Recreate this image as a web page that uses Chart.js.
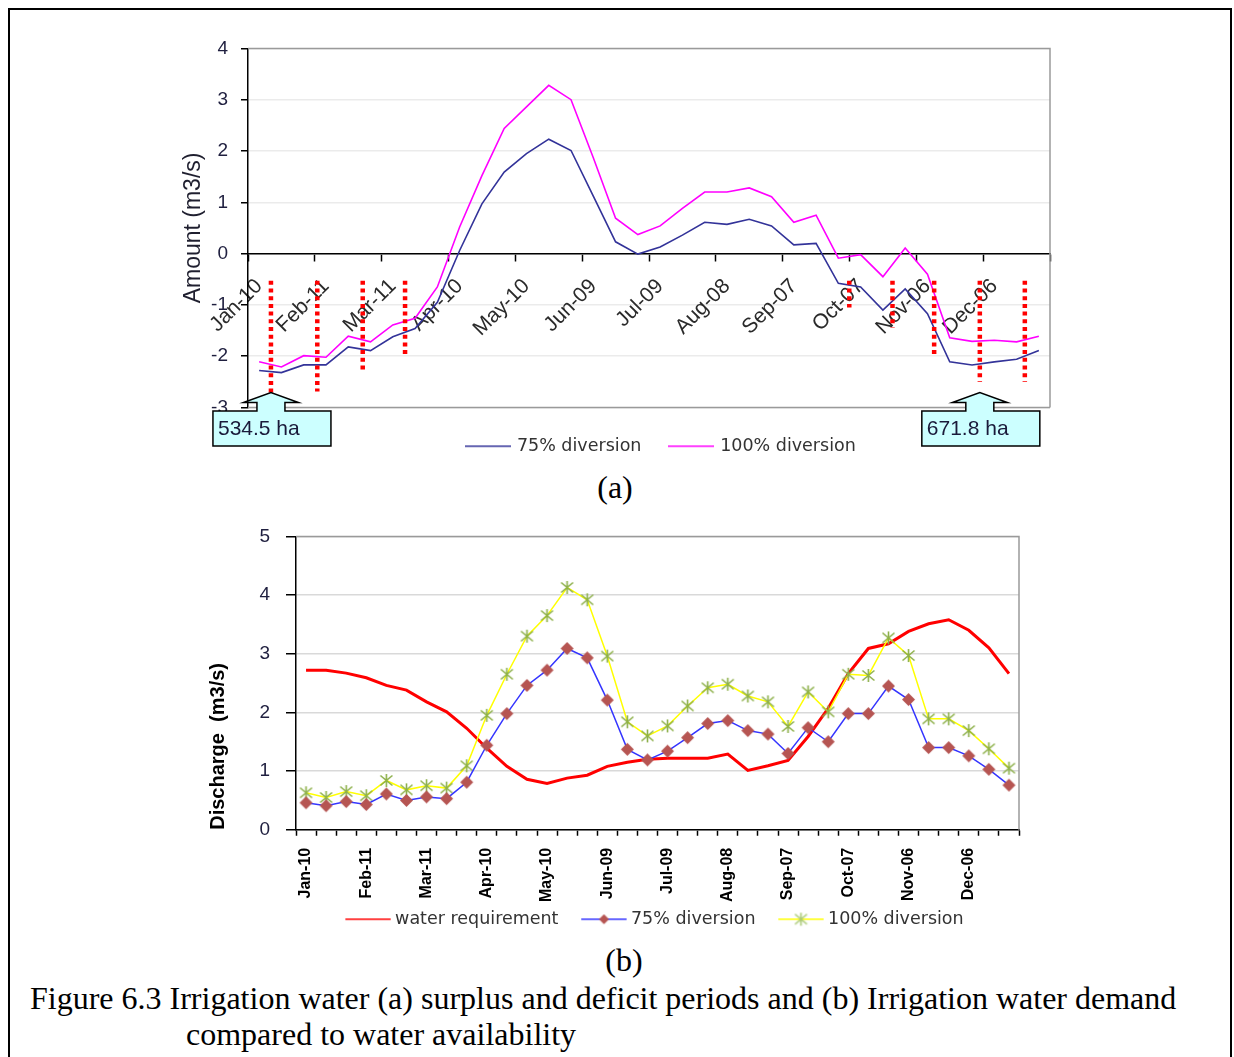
<!DOCTYPE html>
<html>
<head>
<meta charset="utf-8">
<script src="https://cdn.jsdelivr.net/npm/chart.js@4.4.1/dist/chart.umd.min.js"></script>
<style>
  body { margin:0; background:#fff; width:1234px; height:1057px; overflow:hidden; position:relative; }
  #frame { position:absolute; left:8px; top:8px; width:1224px; height:1100px; border:2px solid #000; box-sizing:border-box; }
  canvas { position:absolute; }
  .cap { position:absolute; font-family:"Liberation Serif","Times New Roman",serif; font-size:32px; line-height:32px; color:#000; white-space:nowrap; }
</style>
</head>
<body>
<div id="frame"></div>
<canvas id="c1" width="980" height="441" style="left:172px;top:24px"></canvas>
<canvas id="c2" width="902" height="429" style="left:196px;top:509px"></canvas>
<div class="cap" style="left:515px;width:200px;text-align:center;top:471px">(a)</div>
<div class="cap" style="left:524px;width:200px;text-align:center;top:944px">(b)</div>
<div class="cap" style="left:30px;top:982px">Figure 6.3 Irrigation water (a) surplus and deficit periods and (b) Irrigation water demand</div>
<div class="cap" style="left:186px;top:1018px">compared to water availability</div>
<script>
// ---------- data ----------
const months = ['Jan-10','Feb-11','Mar-11','Apr-10','May-10','Jun-09','Jul-09','Aug-08','Sep-07','Oct-07','Nov-06','Dec-06'];
const decades = months.flatMap(m => [m + ' I', m + ' II', m + ' III']);

// (a) surplus / deficit
const surplus75 = [-2.28,-2.32,-2.17,-2.17,-1.82,-1.89,-1.62,-1.46,-0.95,0.06,0.97,1.59,1.95,2.23,2.01,1.12,0.23,-0.01,0.13,0.36,0.61,0.57,0.67,0.54,0.17,0.20,-0.58,-0.65,-1.10,-0.69,-1.17,-2.11,-2.17,-2.11,-2.06,-1.89];
const surplus100 = [-2.11,-2.21,-1.99,-2.02,-1.61,-1.72,-1.39,-1.26,-0.65,0.52,1.52,2.44,2.86,3.28,3.00,1.87,0.69,0.37,0.54,0.88,1.20,1.20,1.28,1.11,0.61,0.75,-0.09,-0.02,-0.45,0.11,-0.40,-1.64,-1.71,-1.69,-1.72,-1.61];
const deficitMarkAt = [0.53,2.61,4.65,6.55,26.49,28.43,30.3,32.35,34.37];
const deficitMarkTop = [-0.53,-0.53,-0.53,-0.53,-0.53,-0.53,-0.53,-0.53,-0.53];
const deficitMarkBottom = [-2.73,-2.69,-2.27,-2.02,-1.05,-1.44,-2.02,-2.50,-2.50];
const areaLabels = ['534.5 ha','671.8 ha'];
const areaLabelAt = [0.53,32.35];
const yTicksA = { min: -3, max: 4, step: 1 };

// (b) demand vs availability
const requirement = [2.72,2.72,2.67,2.59,2.46,2.38,2.18,2.01,1.73,1.39,1.08,0.86,0.79,0.88,0.93,1.08,1.15,1.20,1.22,1.22,1.22,1.29,1.01,1.09,1.18,1.59,2.07,2.66,3.09,3.17,3.38,3.51,3.58,3.40,3.10,2.66];
const avail75 = [0.46,0.41,0.48,0.43,0.61,0.50,0.56,0.53,0.81,1.44,1.98,2.46,2.72,3.09,2.93,2.21,1.37,1.19,1.34,1.57,1.81,1.86,1.69,1.63,1.30,1.74,1.50,1.98,1.98,2.45,2.22,1.40,1.40,1.26,1.03,0.76];
const avail100 = [0.63,0.55,0.65,0.58,0.84,0.68,0.75,0.71,1.09,1.95,2.65,3.30,3.65,4.13,3.92,2.96,1.84,1.60,1.77,2.11,2.42,2.48,2.28,2.18,1.76,2.35,2.01,2.65,2.63,3.27,2.97,1.89,1.89,1.69,1.38,1.05];
const yTicksB = { min: 0, max: 5, step: 1 };

// ---------- helpers ----------
Chart.defaults.font.family = "'Liberation Sans', Arial, sans-serif";
Chart.defaults.animation = false;

function diamondImg(color, r) {
  const s = Math.ceil(2 * r + 2), c = document.createElement('canvas');
  c.width = s; c.height = s;
  const g = c.getContext('2d'), m = s / 2;
  g.fillStyle = color;
  g.beginPath(); g.moveTo(m - r, m); g.lineTo(m, m - r); g.lineTo(m + r, m); g.lineTo(m, m + r); g.closePath(); g.fill();
  return c;
}
function starImg(color) {
  const c = document.createElement('canvas'); c.width = 15; c.height = 15;
  const g = c.getContext('2d');
  g.strokeStyle = color; g.lineWidth = 1.6;
  g.beginPath();
  g.moveTo(1.5, 2.5); g.lineTo(13.5, 12.5);
  g.moveTo(1.5, 12.5); g.lineTo(13.5, 2.5);
  g.moveTo(7.5, 1); g.lineTo(7.5, 14);
  g.stroke();
  return c;
}
// legend sample: canvas of width w, line drawn from x0 to x1, optional marker in the middle of the line
function legendImg(color, width, w, x0, x1, marker) {
  const c = document.createElement('canvas'); c.width = w; c.height = 16;
  const g = c.getContext('2d');
  g.strokeStyle = color; g.lineWidth = width;
  g.beginPath(); g.moveTo(x0, 8); g.lineTo(x1, 8); g.stroke();
  if (marker) g.drawImage(marker, (x0 + x1) / 2 - marker.width / 2, 8 - marker.height / 2);
  return c;
}
const customLegend = (chart) => chart.data.datasets.map((ds, i) => ({
  text: ds.label, pointStyle: ds.legendImage, datasetIndex: i, hidden: false,
  fillStyle: 'rgba(0,0,0,0)', strokeStyle: 'rgba(0,0,0,0)', lineWidth: 0, fontColor: '#333'
}));

const framePlugin = {
  id: 'plotFrame',
  beforeDatasetsDraw(chart, args, o) {
    const { ctx, chartArea: a } = chart;
    ctx.save();
    ctx.strokeStyle = o.color; ctx.lineWidth = o.width;
    ctx.beginPath();
    if (o.bottom) { ctx.moveTo(a.left, a.bottom); ctx.lineTo(a.right, a.bottom); }
    ctx.moveTo(a.left, a.top); ctx.lineTo(a.right, a.top); ctx.lineTo(a.right, a.bottom);
    ctx.stroke();
    ctx.restore();
  }
};
const markPlugin = {
  id: 'deficitMarks',
  afterDatasetsDraw(chart, args, o) {
    const { ctx } = chart, xs = chart.scales.x, ys = chart.scales.y;
    ctx.save();
    ctx.strokeStyle = o.color; ctx.lineWidth = o.width; ctx.setLineDash(o.dash);
    o.at.forEach((v, i) => {
      const x = xs.getPixelForValue(v);
      ctx.beginPath();
      ctx.moveTo(x, ys.getPixelForValue(o.top[i]));
      ctx.lineTo(x, ys.getPixelForValue(o.bottom[i]));
      ctx.stroke();
    });
    ctx.restore();
  }
};
const calloutPlugin = {
  id: 'areaCallouts',
  afterDraw(chart, args, o) {
    const { ctx, chartArea: a } = chart, xs = chart.scales.x;
    ctx.save();
    o.at.forEach((v, i) => {
      const tx = xs.getPixelForValue(v), ty = a.bottom - 15;
      const hb = ty + 10, bt = ty + 18.5, bb = bt + 35, bl = tx - 58, br = tx + 60;
      ctx.beginPath();
      ctx.moveTo(bl, bt); ctx.lineTo(tx - 14, bt); ctx.lineTo(tx - 14, hb); ctx.lineTo(tx - 27.5, hb);
      ctx.lineTo(tx, ty); ctx.lineTo(tx + 27.5, hb); ctx.lineTo(tx + 14, hb); ctx.lineTo(tx + 14, bt);
      ctx.lineTo(br, bt); ctx.lineTo(br, bb); ctx.lineTo(bl, bb); ctx.closePath();
      ctx.fillStyle = '#CCFFFF'; ctx.fill();
      ctx.strokeStyle = '#000'; ctx.lineWidth = 1.5; ctx.stroke();
      ctx.fillStyle = '#1a1a3a'; ctx.font = "21px 'Liberation Sans', Arial, sans-serif";
      ctx.textBaseline = 'middle'; ctx.textAlign = 'left';
      ctx.fillText(o.labels[i], bl + 5, (bt + bb) / 2 + 1);
    });
    ctx.restore();
  }
};

// ---------- chart (a) ----------
new Chart(document.getElementById('c1'), {
  type: 'line',
  data: {
    labels: decades,
    datasets: [
      { label: '75% diversion', data: surplus75, borderColor: '#333399', borderWidth: 1.6, pointRadius: 0, tension: 0,
        legendImage: legendImg('#333399', 1.6, 46, 0, 46) },
      { label: '100% diversion', data: surplus100, borderColor: '#FF00FF', borderWidth: 1.6, pointRadius: 0, tension: 0,
        legendImage: legendImg('#FF00FF', 1.6, 46, 0, 46) }
    ]
  },
  options: {
    responsive: false,
    scales: {
      x: {
        type: 'category', position: { y: 0 }, offset: true,
        grid: { offset: true, drawOnChartArea: false, drawTicks: true, tickLength: 7, tickWidth: 1.5,
          tickColor: c => (c.index === undefined || c.index % 3 === 0) ? '#000' : 'rgba(0,0,0,0)' },
        border: { color: '#000', width: 1.5 },
        ticks: { autoSkip: false, minRotation: 45, maxRotation: 45, padding: 13.5, color: '#2a2a2a',
          font: { size: 21 },
          callback: (v, i) => (i % 3 === 0 ? months[i / 3] : '') }
      },
      y: {
        min: yTicksA.min, max: yTicksA.max,
        grid: { color: '#ebebeb', lineWidth: 1.5, tickColor: '#000', tickLength: 7, tickWidth: 1.5 },
        border: { color: '#000', width: 1.5 },
        ticks: { stepSize: yTicksA.step, padding: 13, color: '#1f1f3f', font: { size: 19 } },
        title: { display: true, text: 'Amount (m3/s)', color: '#1f1f2f', font: { size: 23 }, padding: { top: 8, bottom: 0 } },
        afterFit: s => { s.width = 76; }
      },
      yR: {
        type: 'linear', position: 'right', display: true,
        grid: { display: false, drawTicks: false }, border: { display: false }, ticks: { display: false },
        afterFit: s => { s.width = 102; }
      }
    },
    plugins: {
      legend: { position: 'bottom', labels: { usePointStyle: true, pointStyleWidth: 40, padding: 30, color: '#333',
        font: { family: "'DejaVu Sans', Verdana, sans-serif", size: 17.5 }, generateLabels: customLegend } },
      tooltip: { enabled: false },
      plotFrame: { color: '#9a9a9a', width: 1.5, bottom: true },
      deficitMarks: { at: deficitMarkAt, top: deficitMarkTop, bottom: deficitMarkBottom, color: '#FF0000', width: 4.5, dash: [4, 3.7] },
      areaCallouts: { at: areaLabelAt, labels: areaLabels }
    }
  },
  plugins: [framePlugin, markPlugin, calloutPlugin]
});

// ---------- chart (b) ----------
const diamond = diamondImg('#B65552', 6.5);
const star = starImg('#8DB04A');
new Chart(document.getElementById('c2'), {
  type: 'line',
  data: {
    labels: decades,
    datasets: [
      { label: 'water requirement', data: requirement, borderColor: '#FF0000', borderWidth: 3, pointRadius: 0, tension: 0, order: 3,
        legendImage: legendImg('#FF0000', 1.6, 66, 20, 65.5) },
      { label: '75% diversion', data: avail75, borderColor: '#3535FF', borderWidth: 1.5, pointStyle: diamond, pointRadius: 6, tension: 0, order: 1,
        legendImage: legendImg('#3535FF', 1.5, 66, 20, 65.5, diamondImg('#B65552', 5)) },
      { label: '100% diversion', data: avail100, borderColor: '#FFFF00', borderWidth: 1.5, pointStyle: star, pointRadius: 6, tension: 0, order: 2,
        legendImage: legendImg('#FFFF00', 1.5, 66, 20, 65.5, starImg('#A8C870')) }
    ]
  },
  options: {
    responsive: false,
    scales: {
      x: {
        type: 'category', position: 'bottom', offset: true,
        grid: { offset: true, drawOnChartArea: false, drawTicks: true, tickLength: 6, tickWidth: 1.5, tickColor: '#000' },
        border: { color: '#000', width: 1.5 },
        ticks: { autoSkip: false, minRotation: 90, maxRotation: 90, padding: 12, color: '#000',
          font: { size: 16, weight: 'bold' },
          callback: (v, i) => (i % 3 === 0 ? months[i / 3] : '') },
        afterFit: s => { s.height = 73; }
      },
      y: {
        min: yTicksB.min, max: yTicksB.max,
        grid: { color: '#d9d9d9', lineWidth: 1.5, tickColor: '#000', tickLength: 10, tickWidth: 1.5 },
        border: { color: '#000', width: 1.5 },
        ticks: { stepSize: yTicksB.step, padding: 16, color: '#1f1f3f', font: { size: 19 } },
        title: { display: true, text: 'Discharge  (m3/s)', align: 'start', color: '#000', font: { size: 20, weight: 'bold' }, padding: { top: 10, bottom: 0 } },
        afterFit: s => { s.width = 100; }
      },
      yR: {
        type: 'linear', position: 'right', display: true,
        grid: { display: false, drawTicks: false }, border: { display: false }, ticks: { display: false },
        afterFit: s => { s.width = 79; }
      }
    },
    plugins: {
      legend: { position: 'bottom', labels: { usePointStyle: true, pointStyleWidth: 56, padding: 7.75, color: '#333',
        font: { family: "'DejaVu Sans', Verdana, sans-serif", size: 17.5 }, generateLabels: customLegend } },
      tooltip: { enabled: false },
      plotFrame: { color: '#9a9a9a', width: 1.5, bottom: false }
    }
  },
  plugins: [framePlugin]
});
</script>
</body>
</html>
